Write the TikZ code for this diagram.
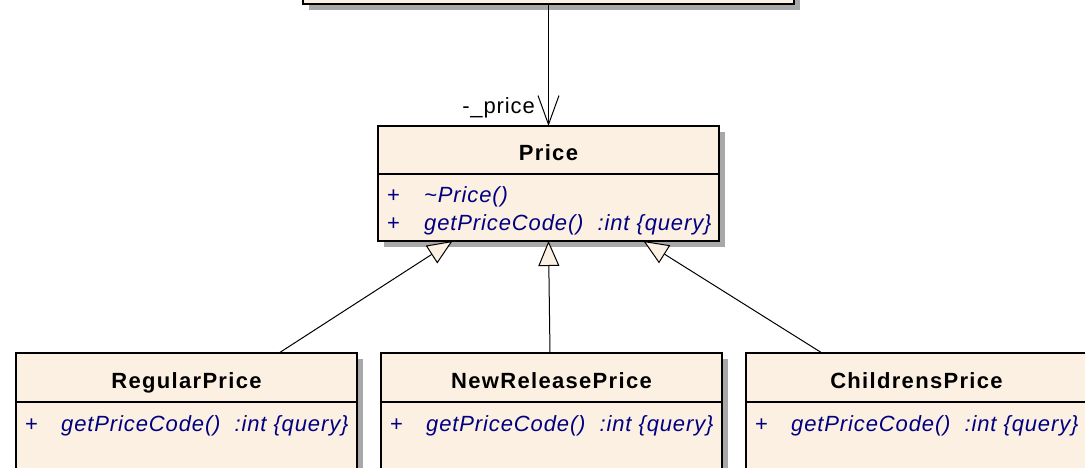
\documentclass[tikz,border=0pt]{standalone}
\usepackage{fontspec}
\setmainfont{Liberation Sans}
\newfontfamily\umlfont[LetterSpace=4]{Liberation Sans}
\newfontfamily\umlbold[LetterSpace=6]{Liberation Sans Bold}
\newfontfamily\umlital[LetterSpace=4]{Liberation Sans Italic}
\usetikzlibrary{arrows.meta,shadows}

\definecolor{classfill}{RGB}{251,240,226}
\definecolor{opblue}{RGB}{0,0,128}
\definecolor{shadowgray}{RGB}{168,168,168}

\begin{document}
\begin{tikzpicture}[x=1pt,y=-1pt,
  classbox/.style={draw=black, line width=1.3pt, fill=classfill, rectangle,
    inner sep=0pt, outer sep=0pt, anchor=north west,
    drop shadow={shadow xshift=6pt, shadow yshift=-6pt, fill=shadowgray, opacity=1}},
  classtitle/.style={anchor=base, inner sep=0pt, text=black,
    font=\umlbold\fontsize{22}{26}\selectfont},
  opvis/.style={anchor=base west, inner sep=0pt, text=opblue,
    font=\umlfont\fontsize{22}{26}\selectfont},
  opname/.style={anchor=base west, inner sep=0pt, text=opblue,
    font=\umlital\fontsize{22}{26}\selectfont},
  rolelabel/.style={anchor=base east, inner sep=0pt, text=black,
    font=\umlfont\fontsize{22}{26}\selectfont},
  assoc/.style={line width=1pt, -{Straight Barb[length=29pt, width=21pt]}},
  generalization/.style={line width=1pt,
    -{Triangle[open, length=25pt, width=21pt, fill=classfill]}}
]
\useasboundingbox (0,0) rectangle (1085,468);
\clip (0,0) rectangle (1085,468);

% owning class at the top (only its lower edge is in view)
\node[classbox, minimum width=491pt, minimum height=70pt] (context) at (303,-66) {};

% abstract class Price
\node[classbox, minimum width=341pt, minimum height=48pt] (price) at (378,126) {};
\node[classbox, minimum width=341pt, minimum height=67pt] (pricebody) at (378,174) {};
\node[classtitle] (pricetitle) at (548.5,161) {Price};
\node[opvis]  (pricevis1) at (387,203) {+};
\node[opname] (priceop1)  at (424,203) {\textasciitilde Price()};
\node[opvis]  (pricevis2) at (387,230) {+};
\node[opname] (priceop2)  at (424,230) {getPriceCode()\ \ :int \{query\}};

% concrete subclasses
\node[classbox, minimum width=341pt, minimum height=49pt] (regular) at (16,353) {};
\node[classbox, minimum width=341pt, minimum height=90pt] (regularbody) at (16,402) {};
\node[classtitle] (regulartitle) at (186.5,388) {RegularPrice};
\node[opvis]  (regularvis) at (25,431) {+};
\node[opname] (regularop)  at (61,431) {getPriceCode()\ \ :int \{query\}};

\node[classbox, minimum width=341pt, minimum height=49pt] (newrel) at (381,353) {};
\node[classbox, minimum width=341pt, minimum height=90pt] (newrelbody) at (381,402) {};
\node[classtitle] (newreltitle) at (551.5,388) {NewReleasePrice};
\node[opvis]  (newrelvis) at (390,431) {+};
\node[opname] (newrelop)  at (426,431) {getPriceCode()\ \ :int \{query\}};

\node[classbox, minimum width=341pt, minimum height=49pt] (children) at (746,353) {};
\node[classbox, minimum width=341pt, minimum height=90pt] (childrenbody) at (746,402) {};
\node[classtitle] (childrentitle) at (916.5,388) {ChildrensPrice};
\node[opvis]  (childrenvis) at (755,431) {+};
\node[opname] (childrenop)  at (791,431) {getPriceCode()\ \ :int \{query\}};

% association to Price
\draw[assoc] (context.south) -- (price.north);
\node[rolelabel] (pricerole) at (535,114) {-\_price};

% generalizations
\draw[generalization] ([xshift=92.5pt]regular.north) -- ([xshift=-96pt]pricebody.south);
\draw[generalization] ([xshift=-1.5pt]newrel.north) -- (pricebody.south);
\draw[generalization] ([xshift=-94.5pt]children.north) -- ([xshift=95pt]pricebody.south);
\end{tikzpicture}
\end{document}
